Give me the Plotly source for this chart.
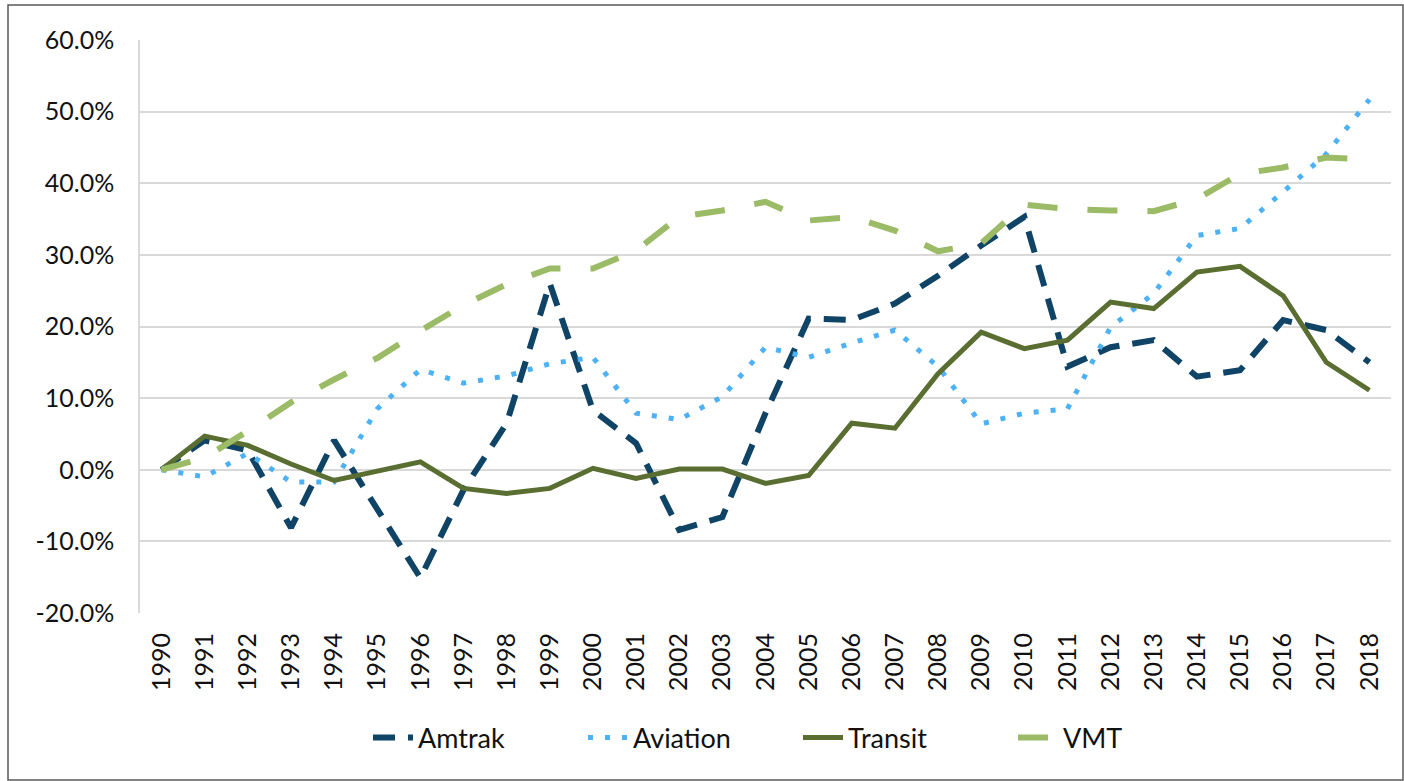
import plotly.graph_objects as go

years = [str(y) for y in range(1990, 2019)]

amtrak = [0.0, 4.1, 2.7, -8.1, 4.1, -5.5, -15.1, -2.8, 6.5, 26.0, 8.3, 3.7, -8.4, -6.6, 7.9,
          21.1, 20.9, 23.2, 27.1, 31.3, 35.3, 14.4, 17.1, 18.1, 13.0, 13.9, 20.9, 19.5, 15.0]
aviation = [0.0, -1.0, 2.3, -1.7, -1.7, 8.5, 14.0, 12.1, 13.1, 14.8, 15.7, 7.9, 7.0, 10.2, 17.1,
            15.7, 17.7, 19.5, 14.4, 6.4, 7.9, 8.5, 19.9, 24.6, 32.7, 33.7, 38.8, 44.1, 51.7]
transit = [0.0, 4.7, 3.4, 0.8, -1.5, -0.2, 1.1, -2.6, -3.3, -2.6, 0.2, -1.2, 0.1, 0.1, -1.9,
           -0.8, 6.5, 5.8, 13.4, 19.2, 16.9, 18.1, 23.4, 22.5, 27.6, 28.4, 24.3, 15.0, 11.1]
vmt = [0.0, 1.7, 5.4, 9.4, 12.6, 15.6, 19.4, 23.0, 25.9, 28.1, 28.1, 30.6, 35.3, 36.2, 37.4,
       34.8, 35.3, 33.4, 30.5, 31.6, 37.0, 36.4, 36.2, 36.1, 37.8, 41.3, 42.2, 43.6, 43.3]

y_ticks = [-20, -10, 0, 10, 20, 30, 40, 50, 60]
y_labels = [f"{v:.1f}%" for v in y_ticks]

FONT = "Lato"
TXT = "#111111"

fig = go.Figure()
fig.add_trace(go.Scatter(x=years, y=amtrak, name="Amtrak", mode="lines",
                         line=dict(color="#0f4466", width=6, dash="22px,13px")))
fig.add_trace(go.Scatter(x=years, y=aviation, name="Aviation", mode="lines",
                         line=dict(color="#4db1f5", width=5, dash="5px,12px")))
fig.add_trace(go.Scatter(x=years, y=transit, name="Transit", mode="lines",
                         line=dict(color="#5a6e31", width=5)))
fig.add_trace(go.Scatter(x=years, y=vmt, name="VMT", mode="lines",
                         line=dict(color="#9bbb66", width=6, dash="30px,30px")))

fig.update_layout(
    width=1404, height=781,
    margin=dict(l=140, r=13, t=40, b=168),
    paper_bgcolor="white", plot_bgcolor="white",
    font=dict(family=FONT, size=25, color=TXT),
    showlegend=True,
    legend=dict(orientation="h", x=(368 - 140) / 1251, xanchor="left", y=-0.218, yanchor="middle",
                font=dict(family=FONT, size=27, color=TXT),
                entrywidth=160, entrywidthmode="pixels",
                itemwidth=40, traceorder="normal"),
    xaxis=dict(type="category", range=[-0.5, 28.5], showgrid=False, tickangle=-90,
               ticks="", showline=False, zeroline=False, ticklabelstandoff=14,
               tickfont=dict(family=FONT, size=25, color=TXT)),
    yaxis=dict(range=[-20, 60], tickvals=y_ticks, ticktext=y_labels, showgrid=True,
               gridcolor="#d9d9d9", gridwidth=1.5, zeroline=False, ticks="",
               showline=True, linecolor="#d9d9d9", linewidth=1.5, ticklabelstandoff=19,
               tickfont=dict(family=FONT, size=25, color=TXT)),
    shapes=[dict(type="rect", xref="paper", yref="paper",
                 x0=(8 - 140) / 1251, x1=(1403 - 140) / 1251,
                 y0=(613 - 780) / 573, y1=(613 - 5) / 573,
                 line=dict(color="#595959", width=1.5), layer="below")],
)

fig.write_html("out.html", config={"displayModeBar": False},
               post_script="document.body.style.margin='0';document.body.style.padding='0';")
